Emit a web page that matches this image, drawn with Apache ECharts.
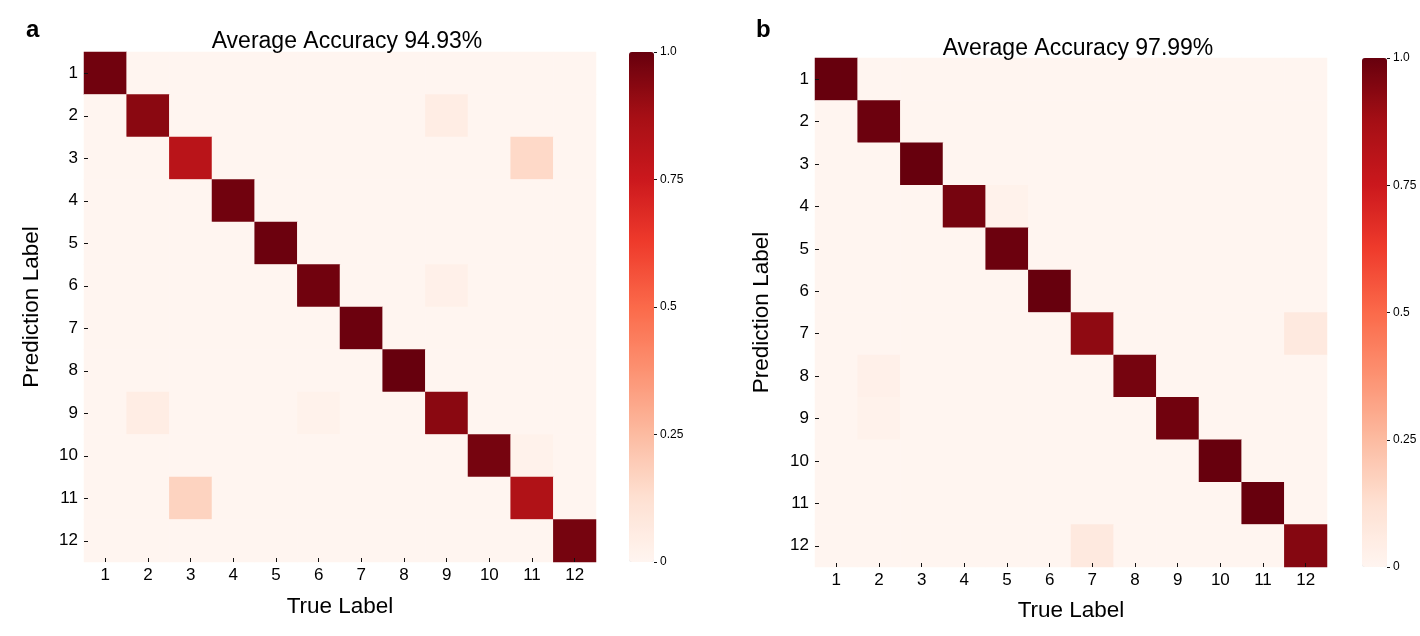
<!DOCTYPE html>
<html>
<head>
<meta charset="utf-8">
<title>Confusion matrices</title>
<script src="https://cdn.jsdelivr.net/npm/echarts@6/dist/echarts.min.js"></script>
<style>
    html, body { margin: 0; padding: 0; background: #fff; }
    #main { width: 1420px; height: 636px; }
</style>
</head>
<body>
<div id="main"></div>
<script>
// class labels (shared by both panels)
var labels = ['1', '2', '3', '4', '5', '6', '7', '8', '9', '10', '11', '12'];
var colorbarTicks = [0, 0.25, 0.5, 0.75, 1.0];

// panel a: diagonal accuracy per class and off-diagonal confusions [row, col, value]
var titleA = 'Average Accuracy 94.93%';
var diagA = [0.98, 0.93, 0.81, 0.98, 0.99, 0.98, 0.99, 1.0, 0.93, 0.97, 0.84, 0.97];
var offA = [[2, 9, 0.05], [3, 11, 0.15], [6, 9, 0.03], [9, 2, 0.05], [9, 6, 0.02], [10, 11, 0.02], [11, 3, 0.17]];

// panel b
var titleB = 'Average Accuracy 97.99%';
var diagB = [1.0, 0.99, 1.0, 0.97, 0.99, 1.0, 0.92, 0.97, 0.98, 1.0, 1.0, 0.94];
var offB = [[4, 5, 0.02], [7, 12, 0.07], [8, 2, 0.03], [9, 2, 0.02], [12, 7, 0.07]];

// matplotlib "Reds"
var reds = ['#fff5f0', '#fee0d2', '#fcbba1', '#fc9272', '#fb6a4a', '#ef3b2c', '#cb181d', '#a50f15', '#67000d'];

function buildMatrix(diag, off) {
    var m = [];
    for (var r = 0; r < labels.length; r++) {
        m.push([]);
        for (var c = 0; c < labels.length; c++) {
            m[r].push(r === c ? diag[r] : 0);
        }
    }
    off.forEach(function (o) { m[o[0] - 1][o[1] - 1] = o[2]; });
    var data = [];
    for (var r2 = 0; r2 < labels.length; r2++) {
        for (var c2 = 0; c2 < labels.length; c2++) {
            data.push([c2, r2, m[r2][c2]]);
        }
    }
    return data;
}

var font = 'Liberation Sans';
var chart = echarts.init(document.getElementById('main'));

function catAxis(gridIndex, isY, name, gap) {
    return {
        type: 'category',
        gridIndex: gridIndex,
        data: labels,
        inverse: isY,
        z: 5,
        name: name,
        nameLocation: 'middle',
        nameGap: gap,
        nameTextStyle: { fontFamily: font, fontSize: 22.5, color: '#000' },
        axisLine: { show: false },
        axisTick: { show: true, inside: true, length: 4, alignWithLabel: true, lineStyle: { color: '#111' } },
        axisLabel: { fontFamily: font, fontSize: 17, color: '#000', margin: isY ? 6 : 5 },
        splitLine: { show: false },
        splitArea: { show: false }
    };
}

function barAxis(gridIndex) {
    return {
        type: 'value',
        gridIndex: gridIndex,
        position: 'right',
        min: 0,
        max: 1,
        interval: 0.25,
        z: 5,
        axisLine: { show: false, onZero: false },
        axisTick: { show: true, length: 3, lineStyle: { color: '#111' } },
        splitLine: { show: false },
        axisLabel: {
            fontFamily: font, fontSize: 12, color: '#000', margin: 6,
            formatter: function (v) {
                return colorbarTicks.indexOf(v) >= 0 ? (v === 1 ? '1.0' : String(v)) : '';
            }
        }
    };
}

var hiddenX = function (gridIndex) {
    return { type: 'category', gridIndex: gridIndex, data: [''], show: false };
};

var option = {
    backgroundColor: '#fff',
    animation: false,
    title: [
        { text: titleA, left: 342, top: 25, textAlign: 'center', textStyle: { fontFamily: font, fontSize: 23, fontWeight: 'normal', color: '#000' } },
        { text: titleB, left: 1073, top: 32, textAlign: 'center', textStyle: { fontFamily: font, fontSize: 23, fontWeight: 'normal', color: '#000' } },
        { text: 'a', left: 21, top: 13, textStyle: { fontFamily: font, fontSize: 24, fontWeight: 'bold', color: '#000' } },
        { text: 'b', left: 751, top: 13, textStyle: { fontFamily: font, fontSize: 24, fontWeight: 'bold', color: '#000' } }
    ],
    grid: [
        { left: 84, top: 52, width: 512, height: 510 },
        { left: 815, top: 58, width: 512, height: 509 },
        { left: 629, top: 52, width: 25, height: 510 },
        { left: 1362, top: 58, width: 25, height: 509 }
    ],
    xAxis: [
        catAxis(0, false, 'True Label', 33),
        catAxis(1, false, 'True Label', 32),
        hiddenX(2),
        hiddenX(3)
    ],
    yAxis: [
        catAxis(0, true, 'Prediction Label', 41),
        catAxis(1, true, 'Prediction Label', 42),
        barAxis(2),
        barAxis(3)
    ],
    visualMap: [
        {
            type: 'continuous', min: 0, max: 1, seriesIndex: 0,
            calculable: false, orient: 'vertical', padding: 0,
            left: 629, top: 52, itemWidth: 25, itemHeight: 510,
            text: null, inRange: { color: reds }
        },
        {
            type: 'continuous', min: 0, max: 1, seriesIndex: 1,
            calculable: false, orient: 'vertical', padding: 0,
            left: 1362, top: 58, itemWidth: 25, itemHeight: 509,
            text: null, inRange: { color: reds }
        }
    ],
    series: [
        { type: 'heatmap', xAxisIndex: 0, yAxisIndex: 0, data: buildMatrix(diagA, offA), itemStyle: { borderWidth: 0 } },
        { type: 'heatmap', xAxisIndex: 1, yAxisIndex: 1, data: buildMatrix(diagB, offB), itemStyle: { borderWidth: 0 } }
    ]
};

chart.setOption(option);
</script>
</body>
</html>
